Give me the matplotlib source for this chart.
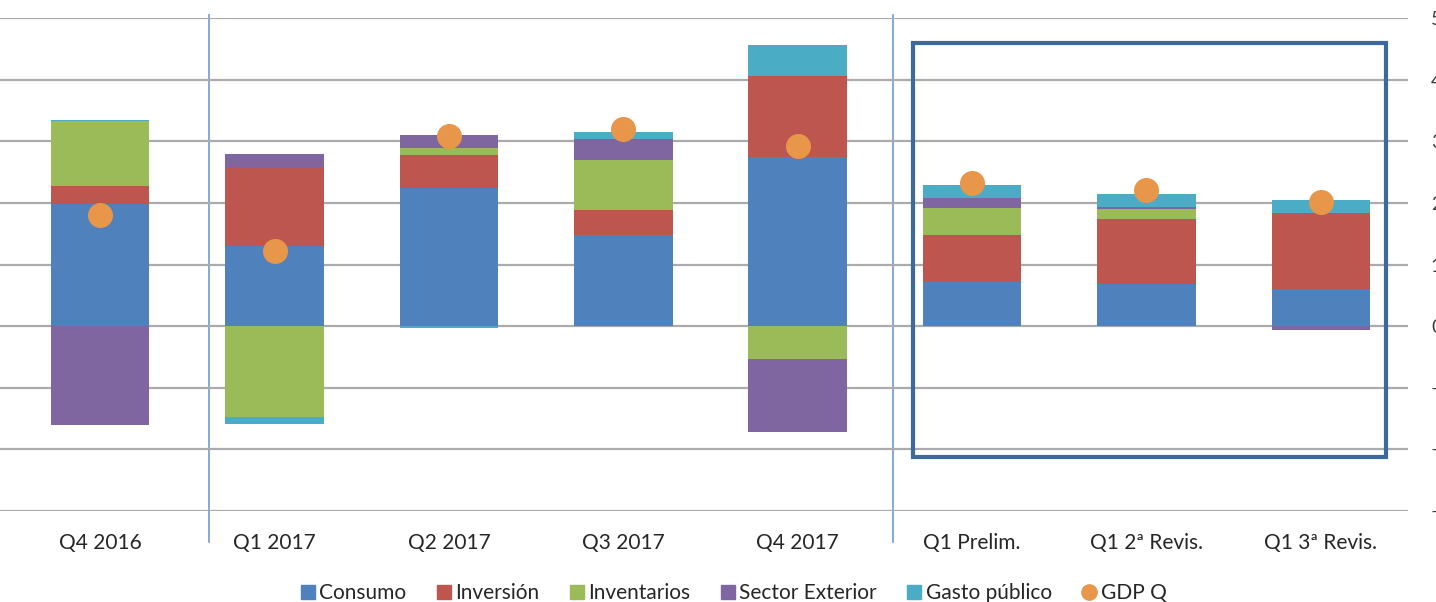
import numpy as np
import matplotlib
matplotlib.use('Agg')
import matplotlib.pyplot as plt
from matplotlib.lines import Line2D
from matplotlib.patches import Rectangle

plt.rcParams['font.family'] = ['Lato', 'DejaVu Sans']

categories = ['Q4 2016', 'Q1 2017', 'Q2 2017', 'Q3 2017', 'Q4 2017',
              'Q1 Prelim.', 'Q1 2ª Revis.', 'Q1 3ª Revis.']
consumo = [1.98, 1.30, 2.24, 1.48, 2.74, 0.72, 0.69, 0.60]
inversion = [0.29, 1.29, 0.53, 0.41, 1.32, 0.76, 1.05, 1.23]
inventarios = [1.06, -1.48, 0.12, 0.80, -0.54, 0.43, 0.16, 0.0]
sector_ext = [-1.61, 0.20, 0.21, 0.34, -1.17, 0.17, 0.04, -0.07]
gasto = [0.02, -0.11, -0.03, 0.12, 0.50, 0.21, 0.21, 0.21]
gdp = [1.80, 1.22, 3.09, 3.20, 2.92, 2.33, 2.21, 2.01]

series = [('Consumo', consumo, '#4F81BD'),
          ('Inversión', inversion, '#BE5650'),
          ('Inventarios', inventarios, '#9BBB59'),
          ('Sector Exterior', sector_ext, '#8066A0'),
          ('Gasto público', gasto, '#4BACC6')]
gdp_color = '#E8964A'

W, H = 1436, 602
fig = plt.figure(figsize=(W / 100, H / 100), dpi=100)
ax = fig.add_axes([0, 91 / H, 1408 / W, 493 / H])

x = np.arange(len(categories))
pos_base = np.zeros(len(x))
neg_base = np.zeros(len(x))
for name, vals, col in series:
    v = np.array(vals)
    bottom = np.where(v >= 0, pos_base, neg_base)
    ax.bar(x, v, width=0.565, bottom=bottom, color=col, zorder=2)
    pos_base += np.where(v >= 0, v, 0)
    neg_base += np.where(v < 0, v, 0)

ax.plot(x, gdp, 'o', color=gdp_color, markersize=17, zorder=3)

ax.set_xlim(-0.5 - 13 / 174.4, 7.5)
ax.set_ylim(-3, 5)
ax.set_yticks(range(-3, 6))
ax.yaxis.tick_right()
ax.grid(axis='y', color='#ababab', linewidth=1.6, zorder=0)
ax.tick_params(axis='y', length=0, pad=16.5, labelsize=14, labelcolor='#404040')
ax.set_xticks(x)
ax.set_xticklabels(categories)
ax.tick_params(axis='x', length=0, pad=15.5, labelsize=15, labelcolor='#262626')
for s in ax.spines.values():
    s.set_visible(False)

# separator lines
for xs in [0.624, 4.548]:
    ax.plot([xs, xs], [5.05, -3.5], color='#6f9bd0', linewidth=1.2,
            clip_on=False, zorder=1)

# highlight box
ax.add_patch(Rectangle((4.66, -2.13), 7.373 - 4.66, 4.59 + 2.13, fill=False,
                       edgecolor='#3C6A9C', linewidth=3, zorder=4, clip_on=False))

handles = [Line2D([], [], marker='s', linestyle='', color=c, markersize=10.5)
           for _, _, c in series]
handles.append(Line2D([], [], marker='o', linestyle='', color=gdp_color, markersize=11))
labels = [n for n, _, _ in series] + ['GDP Q']
fig.legend(handles, labels, loc='center', bbox_to_anchor=(733 / W, 9 / H),
           ncol=6, frameon=False, fontsize=15, handlelength=0.8,
           handletextpad=0.15, columnspacing=1.4, labelcolor='#262626')

fig.savefig('out.png', dpi=100)
